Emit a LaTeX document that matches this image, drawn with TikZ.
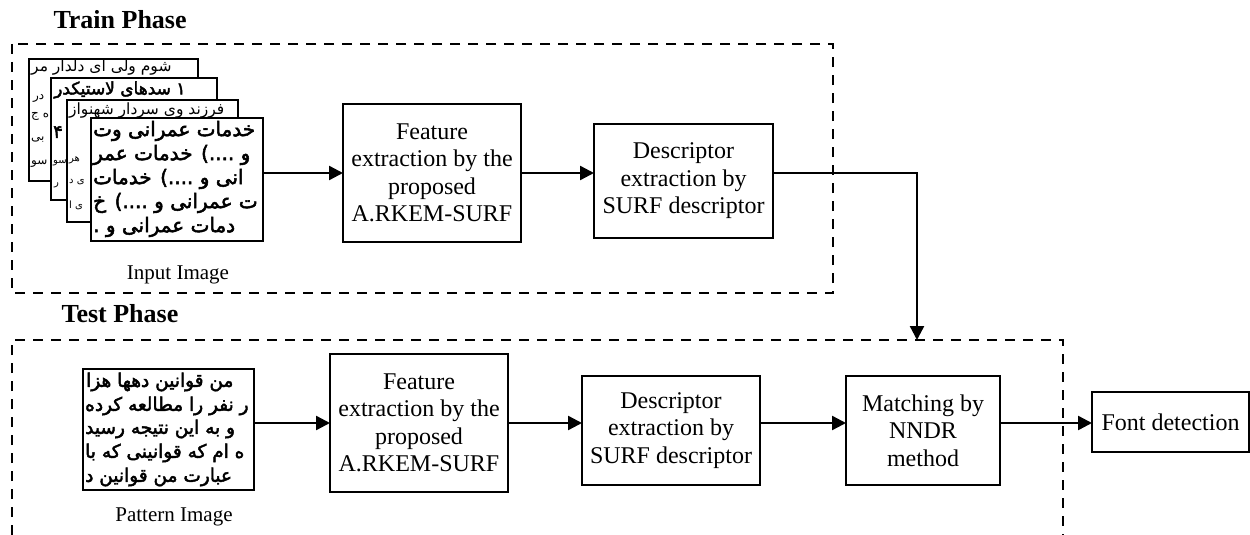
\documentclass[tikz,border=0pt]{standalone}
\usepackage{fontspec}
\setmainfont{Liberation Serif}
\newfontfamily\arabicfont[Script=Arabic]{DejaVu Sans}
\newfontfamily\arabicbf[Script=Arabic,FakeBold=2.5]{DejaVu Sans}
\TeXXeTstate=1
\usetikzlibrary{arrows.meta}
\begin{document}
\begin{tikzpicture}[x=1pt,y=-1pt,
  proc/.style={draw, line width=1.8pt, fill=white, align=center, inner sep=0pt, outer sep=0pt,
               font=\fontsize{24}{27.5}\selectfont},
  pagebox/.style={draw, line width=1.6pt, fill=white, inner sep=0pt, outer sep=0pt},
  pageline/.style={line width=1.6pt},
  arr/.style={line width=2.4pt, -{Triangle[length=14pt,width=14pt]}},
  phasebox/.style={line width=2.2pt, dash pattern=on 10pt off 8pt},
  lbl/.style={font=\fontsize{21}{24}\selectfont},
  phase/.style={font=\bfseries\fontsize{26}{30}\selectfont},
  thintxt/.style={anchor=west, inner sep=0pt, font=\arabicfont\fontsize{12}{12}\selectfont},
  toptxt/.style={anchor=west, inner sep=0pt, font=\arabicfont\fontsize{15.5}{15.5}\selectfont},
  boldtxt/.style={anchor=west, inner sep=0pt, font=\arabicbf\fontsize{20}{20}\selectfont},
  pattxt/.style={anchor=west, inner sep=0pt, font=\arabicbf\fontsize{18.5}{18.5}\selectfont}
]
\useasboundingbox (0,0) rectangle (1250,535);

% phase frames
\draw[phasebox] (12,44) rectangle (833,293);
\draw[phasebox] (12,535) -- (12,340) -- (1063,340) -- (1063,535);

\node[phase, anchor=west] (trainlbl) at (50,20) {Train Phase};
\node[phase, anchor=west] (testlbl) at (58,314) {Test Phase};

% ---- stack of input images ----
\node[pagebox, minimum width=169pt, minimum height=122pt] (p1) at (113.5,120) {};
\begin{scope}
  \clip (p1.south west) rectangle (p1.north east);
  \node[toptxt] at (31,68) {\beginR شوم ولی ای دلدار مر\endR};
  \node[thintxt] at (33,98) {در};
  \node[thintxt] at (31,116) {\beginR ه ج\endR};
  \node[thintxt] at (31,140) {بی};
  \node[thintxt] at (31,164) {سو};
\end{scope}
\draw[pageline] (p1.south west) rectangle (p1.north east);

\node[pagebox, minimum width=166pt, minimum height=122pt] (p2) at (134,139) {};
\begin{scope}
  \clip (p2.south west) rectangle (p2.north east);
  \node[boldtxt, font=\arabicbf\fontsize{17}{17}\selectfont] at (54,90) {\beginR ۱ سدهای لاستیکدر\endR};
  \node[boldtxt, font=\arabicbf\fontsize{18}{18}\selectfont] at (53,132) {۴};
  \node[thintxt, font=\arabicfont\fontsize{10}{10}\selectfont] at (53,163) {سو};
  \node[thintxt, font=\arabicfont\fontsize{10}{10}\selectfont] at (54,185) {ر};
\end{scope}
\draw[pageline] (p2.south west) rectangle (p2.north east);

\node[pagebox, minimum width=171pt, minimum height=122pt] (p3) at (152.5,161) {};
\begin{scope}
  \clip (p3.south west) rectangle (p3.north east);
  \node[toptxt] at (69,111) {\beginR فرزند وی سردار شهنواز\endR};
  \node[thintxt, font=\arabicfont\fontsize{10}{10}\selectfont] at (69,160) {هر};
  \node[thintxt, font=\arabicfont\fontsize{10}{10}\selectfont] at (69,182) {\beginR ی د\endR};
  \node[thintxt, font=\arabicfont\fontsize{10}{10}\selectfont] at (69,205) {\beginR ی ا\endR};
\end{scope}
\draw[pageline] (p3.south west) rectangle (p3.north east);

\node[pagebox, minimum width=172pt, minimum height=123pt] (p4) at (177,179.5) {};
\begin{scope}
  \clip (p4.south west) rectangle (p4.north east);
  \node[boldtxt] at (93,131) {\beginR خدمات عمرانی وت\endR};
  \node[boldtxt] at (93,155) {\beginR و ....) خدمات عمر\endR};
  \node[boldtxt] at (93,179) {\beginR انی و ....) خدمات\endR};
  \node[boldtxt] at (93,203) {\beginR ت عمرانی و ....) خ\endR};
  \node[boldtxt] at (93,227) {\beginR دمات عمرانی و .\endR};
\end{scope}
\draw[pageline] (p4.south west) rectangle (p4.north east);

\node[lbl] (inlbl) at (178,275) {Input Image};

% ---- train row ----
\node[proc, minimum width=178pt, minimum height=138pt] (tf) at (432,173)
  {Feature\\extraction by the\\proposed\\A.RKEM-SURF};
\node[proc, minimum width=179pt, minimum height=114pt] (td) at (683.5,181)
  {Descriptor\\extraction by\\SURF descriptor};

% ---- test row ----
\node[pagebox, minimum width=171pt, minimum height=121pt] (pat) at (168.5,429.5) {};
\begin{scope}
  \clip (pat.south west) rectangle (pat.north east);
  \node[pattxt] at (86,382) {\beginR من قوانین دهها هزا\endR};
  \node[pattxt] at (85,406) {\beginR ر نفر را مطالعه کرده\endR};
  \node[pattxt] at (85,429) {\beginR و به این نتیجه رسید\endR};
  \node[pattxt] at (85,453) {\beginR ه ام که قوانینی که با\endR};
  \node[pattxt] at (85,477) {\beginR عبارت من قوانین د\endR};
\end{scope}
\draw[pageline] (pat.south west) rectangle (pat.north east);
\node[lbl] (patlbl) at (174,517) {Pattern Image};

\node[proc, minimum width=178pt, minimum height=138pt] (ef) at (419,423)
  {Feature\\extraction by the\\proposed\\A.RKEM-SURF};
\node[proc, minimum width=178pt, minimum height=109pt] (ed) at (671,430.5)
  {Descriptor\\extraction by\\SURF descriptor};
\node[proc, minimum width=154pt, minimum height=109pt] (em) at (923,430.5)
  {Matching by\\NNDR\\method};
\node[proc, minimum width=157pt, minimum height=60pt] (fd) at (1170.5,422)
  {Font detection};

% ---- connectors ----
\coordinate (ty) at (0,173);
\coordinate (ry) at (0,423);
\coordinate (bend) at (917,173);
\coordinate (drop) at (917,340);

\draw[arr] (p4.east |- ty) -- (tf.west |- ty);
\draw[arr] (tf.east |- ty) -- (td.west |- ty);
\draw[arr] (td.east |- ty) -- (bend) -- (drop);

\draw[arr] (pat.east |- ry) -- (ef.west |- ry);
\draw[arr] (ef.east |- ry) -- (ed.west |- ry);
\draw[arr] (ed.east |- ry) -- (em.west |- ry);
\draw[arr] (em.east |- ry) -- (fd.west |- ry);
\end{tikzpicture}
\end{document}
